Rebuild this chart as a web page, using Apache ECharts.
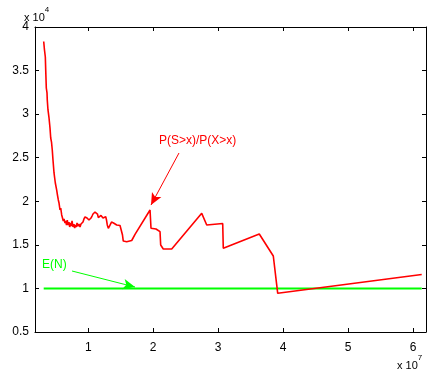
<!DOCTYPE html>
<html>
<head>
<meta charset="utf-8">
<script src="https://cdn.jsdelivr.net/npm/echarts@6/dist/echarts.min.js"></script>
<style>
  html, body { margin: 0; padding: 0; background: #fff; }
  #chart { width: 432px; height: 380px; }
</style>
</head>
<body>
<div id="chart"></div>
<script>
// x in units of 1e7, y in units of 1e4
const ratioX = [0.314, 0.326, 0.339, 0.345, 0.354, 0.365, 0.369, 0.380, 0.396, 0.411,
    0.422, 0.434, 0.446, 0.457, 0.473, 0.483, 0.493, 0.503, 0.514, 0.526,
    0.539, 0.550, 0.565, 0.576, 0.591, 0.603, 0.616, 0.627, 0.642, 0.653,
    0.665, 0.677, 0.688, 0.703, 0.714, 0.727, 0.739, 0.750, 0.765, 0.780,
    0.791, 0.804, 0.816, 0.827, 0.842, 0.857, 0.873, 0.888, 0.904, 0.919,
    0.934, 0.950, 0.965, 0.981, 0.996, 1.011, 1.027, 1.042, 1.058, 1.073,
    1.088, 1.104, 1.130, 1.142, 1.155, 1.165, 1.181, 1.196, 1.212, 1.227,
    1.247, 1.269, 1.281, 1.293, 1.309, 1.327, 1.342, 1.358, 1.370, 1.389,
    1.404, 1.419, 1.438, 1.458, 1.489, 1.515, 1.527, 1.539, 1.566, 1.592,
    1.616, 1.669, 1.720, 1.951, 1.966, 2.043, 2.105, 2.115, 2.155, 2.285,
    2.747, 2.824, 3.070, 3.079, 3.633, 3.849, 3.917, 6.134];
const ratioY = [3.834, 3.736, 3.656, 3.507, 3.300, 3.243, 3.162, 3.048, 2.956, 2.841,
    2.726, 2.680, 2.588, 2.474, 2.325, 2.267, 2.210, 2.221, 2.129, 2.072,
    2.015, 1.980, 1.900, 1.923, 1.843, 1.865, 1.774, 1.797, 1.751, 1.774,
    1.728, 1.785, 1.728, 1.762, 1.705, 1.751, 1.716, 1.774, 1.705, 1.739,
    1.693, 1.728, 1.705, 1.751, 1.716, 1.739, 1.705, 1.739, 1.728, 1.762,
    1.797, 1.820, 1.831, 1.808, 1.808, 1.785, 1.797, 1.808, 1.831, 1.854,
    1.865, 1.877, 1.894, 1.854, 1.812, 1.831, 1.820, 1.837, 1.820, 1.808,
    1.805, 1.823, 1.785, 1.728, 1.690, 1.716, 1.728, 1.762, 1.766, 1.751,
    1.762, 1.739, 1.728, 1.728, 1.722, 1.716, 1.613, 1.544, 1.538, 1.536,
    1.548, 1.550, 1.621, 1.900, 1.690, 1.682, 1.651, 1.498, 1.452, 1.452,
    1.862, 1.728, 1.745, 1.460, 1.624, 1.372, 0.944, 1.160];
const meanX = [0.314, 6.134];
const meanY = [1, 1];
const xTicks = [1, 2, 3, 4, 5, 6];

var chartDom = document.getElementById('chart');
var myChart = echarts.init(chartDom);

const font = 'Liberation Sans, Arial, sans-serif';
const axisCommon = {
    type: 'value',
    axisLine: { show: true, onZero: false, lineStyle: { color: '#000', width: 1 } },
    axisTick: { show: true, inside: true, length: 4, lineStyle: { color: '#000' } },
    splitLine: { show: false }
};

var option = {
    animation: false,
    backgroundColor: '#fff',
    grid: { left: 35, right: 6, top: 27, bottom: 48 },
    xAxis: [
        Object.assign({}, axisCommon, {
            min: 0.18, max: 6.2, position: 'bottom',
            axisTick: { show: true, inside: true, length: 4, customValues: xTicks, lineStyle: { color: '#000' } },
            axisLabel: { customValues: xTicks, color: '#000', fontSize: 12, fontFamily: font, margin: 10 }
        }),
        Object.assign({}, axisCommon, {
            min: 0.18, max: 6.2, position: 'top',
            axisTick: { show: true, inside: true, length: 4, customValues: xTicks, lineStyle: { color: '#000' } },
            axisLabel: { show: false }
        })
    ],
    yAxis: [
        Object.assign({}, axisCommon, {
            min: 0.5, max: 4, interval: 0.5, position: 'left',
            axisLabel: { color: '#000', fontSize: 12, fontFamily: font, margin: 6 }
        }),
        Object.assign({}, axisCommon, {
            min: 0.5, max: 4, interval: 0.5, position: 'right',
            axisLabel: { show: false }
        })
    ],
    series: [
        {
            type: 'line',
            name: 'E(N)',
            data: meanX.map((x, i) => [x, meanY[i]]),
            showSymbol: false,
            lineStyle: { color: '#00ff00', width: 2 },
            z: 2,
            markLine: {
                silent: true,
                symbol: ['none', 'arrow'],
                symbolSize: [8, 12],
                label: { show: false },
                lineStyle: { color: '#00ff00', width: 1, type: 'solid' },
                data: [[{ coord: [0.75, 1.2] }, { coord: [1.72, 1.016] }]]
            }
        },
        {
            type: 'line',
            name: 'P(S>x)/P(X>x)',
            data: ratioX.map((x, i) => [x, ratioY[i]]),
            showSymbol: false,
            lineStyle: { color: '#ff0000', width: 1.6 },
            z: 3,
            markLine: {
                silent: true,
                symbol: ['none', 'arrow'],
                symbolSize: [8, 12],
                label: { show: false },
                lineStyle: { color: '#ff0000', width: 1, type: 'solid' },
                data: [[{ coord: [2.397, 2.554] }, { coord: [1.966, 1.957] }]]
            }
        }
    ],
    graphic: [
        {
            type: 'text', left: 24, top: 6,
            style: {
                text: '{b|x 10}{s|4}',
                rich: {
                    b: { fontSize: 11, fontFamily: font, fill: '#000', padding: [6, 0, 0, 0] },
                    s: { fontSize: 8, fontFamily: font, fill: '#000', verticalAlign: 'top' }
                }
            }
        },
        {
            type: 'text', left: 397, top: 354,
            style: {
                text: '{b|x 10}{s|7}',
                rich: {
                    b: { fontSize: 11, fontFamily: font, fill: '#000', padding: [6, 0, 0, 0] },
                    s: { fontSize: 8, fontFamily: font, fill: '#000', verticalAlign: 'top' }
                }
            }
        },
        {
            type: 'text', left: 159, top: 135,
            style: { text: 'P(S>x)/P(X>x)', fontSize: 12, fontFamily: font, fill: '#ff0000' }
        },
        {
            type: 'text', left: 42, top: 259,
            style: { text: 'E(N)', fontSize: 12, fontFamily: font, fill: '#00ff00' }
        }
    ]
};
myChart.setOption(option);
</script>
</body>
</html>
